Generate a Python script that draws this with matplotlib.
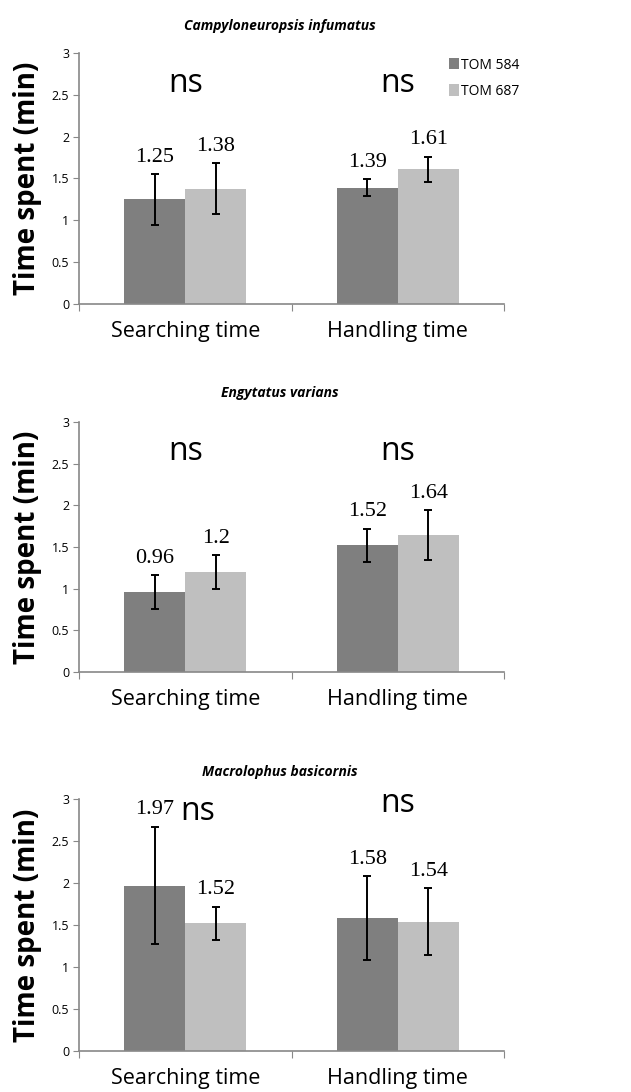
import numpy as np
import matplotlib.pyplot as plt

# Donnees
categories = ["Searching time", "Handling time"]
series = ["TOM 584", "TOM 687"]
species = ["Campyloneuropsis infumatus", "Engytatus varians", "Macrolophus basicornis"]

tom584 = [[1.25, 1.39], [0.96, 1.52], [1.97, 1.58]]
tom687 = [[1.38, 1.61], [1.20, 1.64], [1.52, 1.54]]
err584 = [[0.30, 0.10], [0.20, 0.20], [0.70, 0.50]]
err687 = [[0.30, 0.15], [0.20, 0.30], [0.20, 0.40]]
labels584 = [["1.25", "1.39"], ["0.96", "1.52"], ["1.97", "1.58"]]
labels687 = [["1.38", "1.61"], ["1.2", "1.64"], ["1.52", "1.54"]]
yticks = [0, 0.5, 1, 1.5, 2, 2.5, 3]
ytick_labels = ["0", "0.5", "1", "1.5", "2", "2.5", "3"]
# position des "ns" (x, y) en coordonnees donnees
ns_pos = [[(0, 2.64), (1, 2.64)], [(0, 2.64), (1, 2.64)], [(0.06, 2.85), (1, 2.95)]]

dark = "#7f7f7f"
light = "#bfbfbf"
sans = "Open Sans"
serif = "Liberation Serif"

fig = plt.figure(figsize=(6.31, 10.92), dpi=100)
boxes = [(0.125, 0.7216, 0.674, 0.2299),
         (0.125, 0.3846, 0.674, 0.2290),
         (0.125, 0.0375, 0.674, 0.2308)]
title_y = [0.976, 0.640, 0.293]

x = np.arange(len(categories))
w = 0.287

for i, box in enumerate(boxes):
    ax = fig.add_axes(box)
    ax.bar(x - w / 2, tom584[i], w, color=dark, label=series[0])
    ax.bar(x + w / 2, tom687[i], w, color=light, label=series[1])
    ax.errorbar(x - w / 2, tom584[i], yerr=err584[i], fmt="none", ecolor="black",
                elinewidth=1.4, capsize=3, capthick=1.4)
    ax.errorbar(x + w / 2, tom687[i], yerr=err687[i], fmt="none", ecolor="black",
                elinewidth=1.4, capsize=3, capthick=1.4)

    for j in range(len(categories)):
        ax.text(x[j] - w / 2, tom584[i][j] + err584[i][j] + 0.2, labels584[i][j],
                ha="center", va="center", fontsize=16, family=serif)
        ax.text(x[j] + w / 2, tom687[i][j] + err687[i][j] + 0.2, labels687[i][j],
                ha="center", va="center", fontsize=16, family=serif)
        nx, ny = ns_pos[i][j]
        ax.text(nx, ny, "ns", ha="center", va="center", fontsize=23, family=sans)

    ax.set_xlim(-0.5, 1.5)
    ax.set_ylim(0, 3)
    ax.set_yticks(yticks)
    ax.set_yticklabels(ytick_labels, family=sans, fontsize=9)
    ax.set_xticks([-0.5, 0.5, 1.5])
    ax.set_xticklabels([])
    ax.set_xticks(x, minor=True)
    ax.set_xticklabels(categories, minor=True, family=sans, fontsize=15.5)
    ax.tick_params(axis="x", which="minor", length=0, pad=12)
    ax.tick_params(axis="x", which="major", length=5, color="#888888", direction="out")
    ax.tick_params(axis="y", length=4, color="#888888", pad=3)
    for s in ["top", "right"]:
        ax.spines[s].set_visible(False)
    for s in ["left", "bottom"]:
        ax.spines[s].set_color("#888888")
        ax.spines[s].set_linewidth(1.2)
    ax.set_ylabel("Time spent (min)", family=sans, fontsize=20, fontweight="bold", labelpad=7)

    fig.text(0.444, title_y[i], species[i], ha="center", va="center", fontsize=10,
             family=sans, fontweight="bold", style="italic")

    if i == 0:
        ax.legend(loc="upper left", bbox_to_anchor=(0.857, 1.004), frameon=False,
                  prop={"family": sans, "size": 10}, handlelength=0.7, handleheight=0.9,
                  handletextpad=0.2, labelspacing=0.8, borderaxespad=0)

fig.savefig("out.png", dpi=100)
